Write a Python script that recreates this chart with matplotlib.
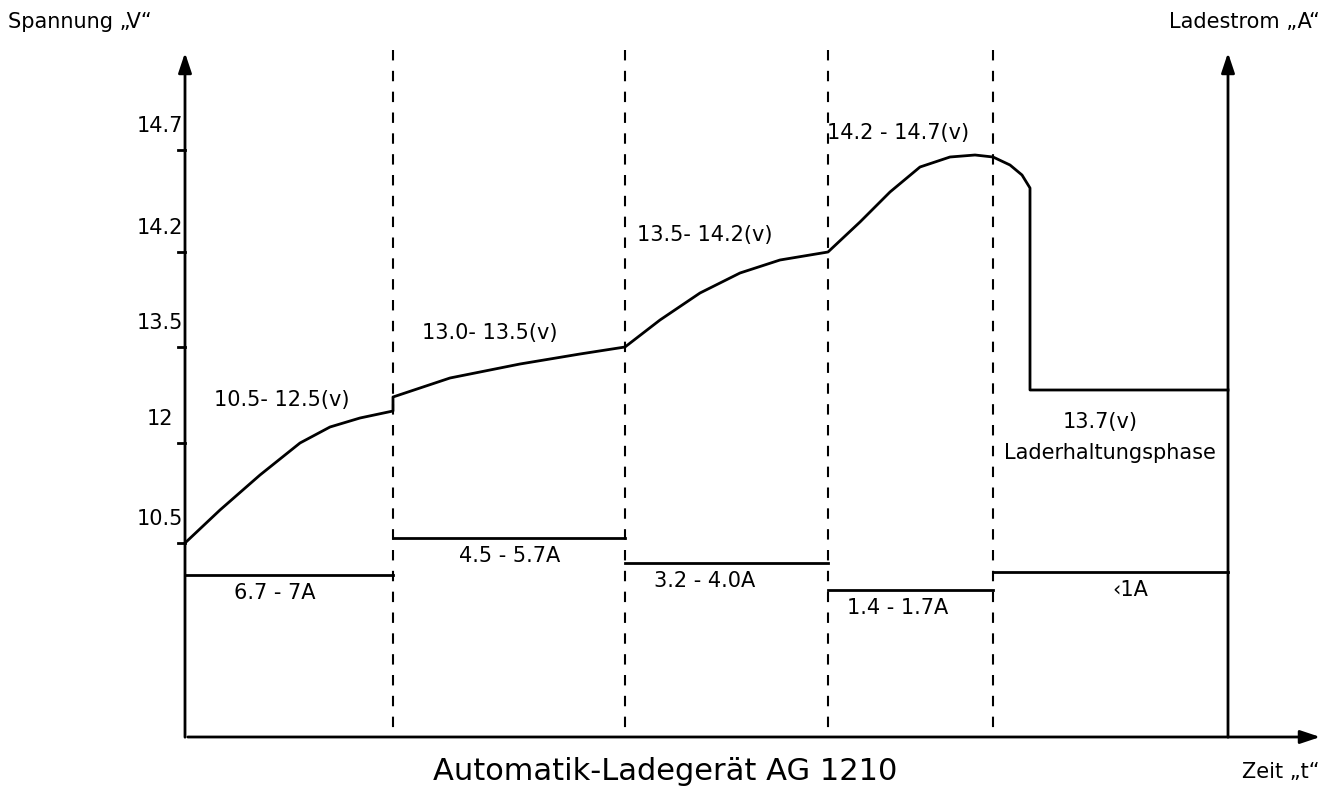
import matplotlib
matplotlib.use("Agg")
import matplotlib.pyplot as plt
import numpy as np

# phase boundaries (time axis, pixel-like chart units)
bounds = [185, 393, 625, 828, 993, 1228]
current_levels = [575, 538, 563, 590, 572]
current_labels = ["6.7 - 7A", "4.5 - 5.7A", "3.2 - 4.0A", "1.4 - 1.7A", "‹1A"]
volt_ticks = [150, 252, 347, 443, 543]
volt_labels = ["14.7", "14.2", "13.5", "12", "10.5"]

# voltage curve (chart units)
vx = [185, 220, 260, 300, 330, 360, 393, 393, 450, 520, 580, 625, 660, 700, 740, 780, 828,
      860, 890, 920, 950, 975, 993, 1010, 1022, 1030, 1030, 1228]
vy = [543, 510, 475, 443, 427, 418, 411, 397, 378, 364, 354, 347, 320, 293, 273, 260, 252,
      222, 192, 167, 157, 155, 157, 165, 175, 188, 390, 390]

fig = plt.figure(figsize=(13.29, 7.99), dpi=100)
ax = fig.add_axes([0, 0, 1, 1])
ax.set_xlim(0, 1329); ax.set_ylim(799, 0); ax.axis("off")
fs = 15
k = dict(color="black", lw=2)
# axes
ax.annotate("", xy=(185, 50), xytext=(185, 740), arrowprops=dict(arrowstyle="-|>,head_width=0.4,head_length=1.2", color="black", lw=2))
ax.annotate("", xy=(1323, 737), xytext=(185, 737), arrowprops=dict(arrowstyle="-|>,head_width=0.4,head_length=1.2", color="black", lw=2))
ax.annotate("", xy=(1228, 50), xytext=(1228, 740), arrowprops=dict(arrowstyle="-|>,head_width=0.4,head_length=1.2", color="black", lw=2))
for b in bounds[1:5]:
    ax.plot([b, b], [50, 737], color="black", lw=1.5, ls=(0, (5, 5)))
for y, l in zip(volt_ticks, volt_labels):
    ax.plot([178, 185], [y, y], **k)
    ax.text(160, y - 14, l, ha="center", va="bottom", fontsize=fs)
ax.plot(vx, vy, **k)
for i, lv in enumerate(current_levels):
    ax.plot([bounds[i], bounds[i + 1]], [lv, lv], **k)
lab_x = [275, 510, 705, 898, 1130]
for x, lv, l in zip(lab_x, current_levels, current_labels):
    ax.text(x, lv + 8, l, ha="center", va="top", fontsize=fs)
ax.text(282, 400, "10.5- 12.5(v)", ha="center", va="center", fontsize=fs)
ax.text(490, 333, "13.0- 13.5(v)", ha="center", va="center", fontsize=fs)
ax.text(705, 235, "13.5- 14.2(v)", ha="center", va="center", fontsize=fs)
ax.text(898, 133, "14.2 - 14.7(v)", ha="center", va="center", fontsize=fs)
ax.text(1100, 422, "13.7(v)", ha="center", va="center", fontsize=fs)
ax.text(1110, 453, "Laderhaltungsphase", ha="center", va="center", fontsize=fs)
ax.text(8, 22, "Spannung „V“", ha="left", va="center", fontsize=fs)
ax.text(1320, 22, "Ladestrom „A“", ha="right", va="center", fontsize=fs)
ax.text(1320, 772, "Zeit „t“", ha="right", va="center", fontsize=fs)
ax.text(665, 772, "Automatik-Ladegerät AG 1210", ha="center", va="center", fontsize=22)
fig.savefig("out.png", dpi=100, facecolor="white")
